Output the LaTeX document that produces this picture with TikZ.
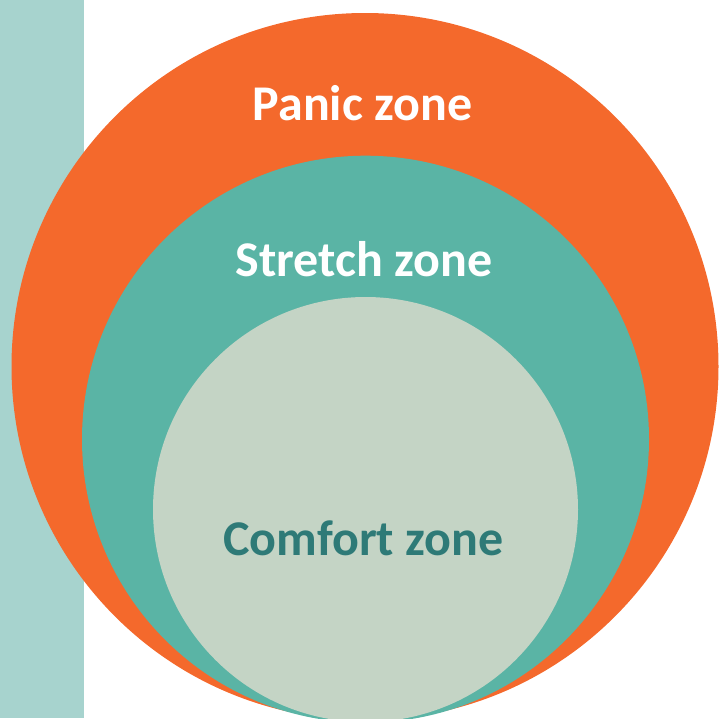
\documentclass[tikz,border=0pt]{standalone}
\usepackage{fontspec}
\setmainfont{Carlito}
\usepackage{xcolor}
\usepackage{tikz}
\definecolor{barteal}{HTML}{A7D3CE}
\definecolor{panic}{HTML}{F4692C}
\definecolor{stretch}{HTML}{5AB4A5}
\definecolor{comfort}{HTML}{C4D4C5}
\definecolor{darkteal}{HTML}{2E7A77}
\begin{document}
\begin{tikzpicture}[
  x=1pt,y=-1pt,
  every node/.style={font=\bfseries\fontsize{50}{60}\selectfont,align=center,anchor=base,inner sep=0pt},
  zonelabel/.style={text=white},
  innerlabel/.style={text=darkteal}
]
\useasboundingbox (0,0) rectangle (720,718);
\clip (0,0) rectangle (720,718);
% side bar
\fill[barteal] (0,0) rectangle (84,718);
% three zones
\fill[panic] (365,366.5) circle[radius=353.5];
\fill[stretch] (365.5,439.2) circle[radius=283.5];
\fill[comfort] (365.5,509.5) circle[radius=212.5];
\node[zonelabel] (panictext) at (362.5,120) {Panic zone};
\node[zonelabel] (stretchtext) at (364,276) {Stretch zone};
\node[innerlabel] (comforttext) at (363.5,555) {Comfort zone};
\end{tikzpicture}
\end{document}
